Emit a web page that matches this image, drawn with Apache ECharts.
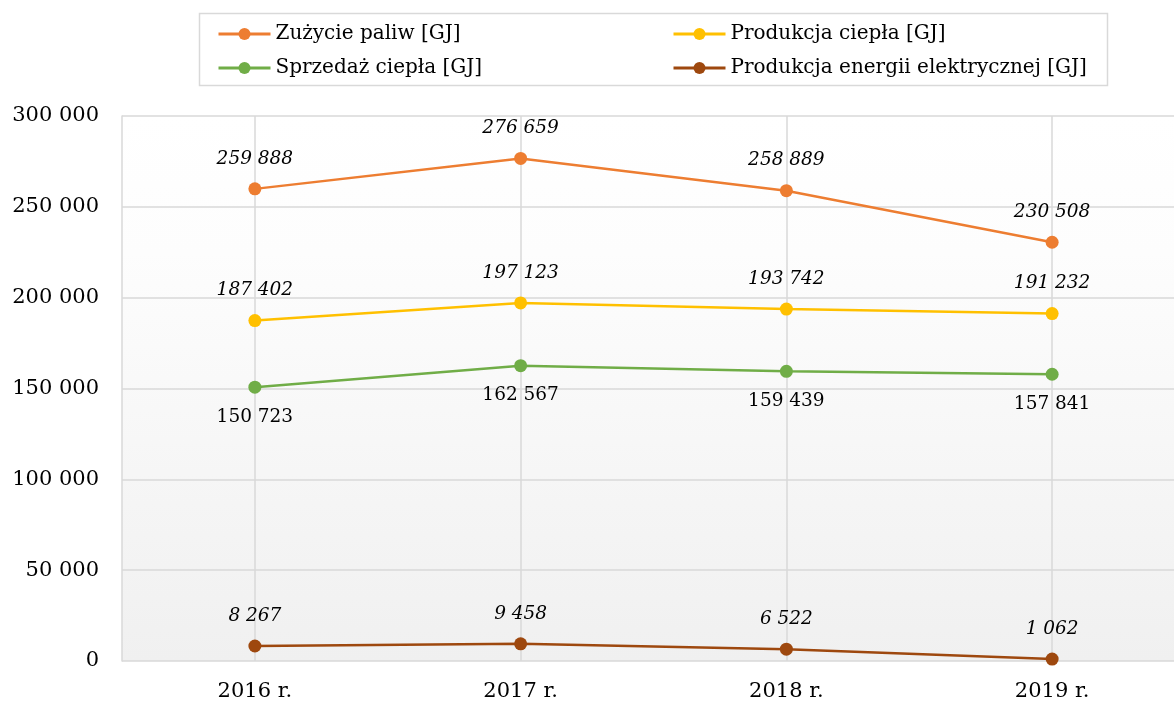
<!DOCTYPE html>
<html>
<head>
<meta charset="utf-8">
<script src="https://cdn.jsdelivr.net/npm/echarts@6/dist/echarts.min.js"></script>
<style>
  html, body { margin: 0; padding: 0; background: #fff; }
  #chart { width: 1174px; height: 702px; }
</style>
</head>
<body>
<div id="chart"></div>
<script>
var years = ['2016 r.', '2017 r.', '2018 r.', '2019 r.'];
var zuzyciePaliw = [259888, 276659, 258889, 230508];
var produkcjaCiepla = [187402, 197123, 193742, 191232];
var sprzedazCiepla = [150723, 162567, 159439, 157841];
var produkcjaEnergii = [8267, 9458, 6522, 1062];

var FONT = '"DejaVu Serif", serif';

function fmt(v){
  return String(v).replace(/\B(?=(\d{3})+(?!\d))/g, ' ');
}

function lineSeries(name, data, color, below){
  return {
    name: name,
    type: 'line',
    data: data,
    symbol: 'circle',
    symbolSize: 13,
    lineStyle: { color: color, width: 2.5 },
    itemStyle: { color: color },
    label: {
      show: true,
      position: below ? 'bottom' : 'top',
      distance: 14,
      fontFamily: FONT,
      fontSize: 18.5,
      fontStyle: below ? 'normal' : 'italic',
      color: '#000',
      formatter: function(p){ return fmt(p.value); }
    }
  };
}

var legendBase = {
  orient: 'vertical', top: 19, itemGap: 14,
  itemWidth: 52, itemHeight: 15,
  lineStyle: { width: 3 },
  textStyle: { fontFamily: FONT, fontSize: 20, color: '#000' }
};

var chart = echarts.init(document.getElementById('chart'));
chart.setOption({
  animation: false,
  backgroundColor: '#fff',
  textStyle: { fontFamily: FONT },
  legend: [
    Object.assign({}, legendBase, {
      left: 212,
      data: ['Zużycie paliw [GJ]', 'Sprzedaż ciepła [GJ]']
    }),
    Object.assign({}, legendBase, {
      left: 667,
      data: ['Produkcja ciepła [GJ]', 'Produkcja energii elektrycznej [GJ]']
    })
  ],
  graphic: [{
    type: 'rect', left: 197, top: 11,
    shape: { width: 908, height: 72 },
    style: { fill: 'none', stroke: '#d9d9d9', lineWidth: 1.5 },
    silent: true
  }],
  grid: {
    left: 122, right: -11, top: 116, bottom: 41,
    outerBoundsMode: 'none',
    show: true, borderWidth: 0,
    backgroundColor: new echarts.graphic.LinearGradient(0, 0, 0, 1, [
      { offset: 0, color: '#ffffff' },
      { offset: 0.25, color: '#fdfdfd' },
      { offset: 1, color: '#f0f0f0' }
    ])
  },
  xAxis: {
    type: 'category',
    data: years,
    boundaryGap: true,
    axisLine: { show: false },
    axisTick: { show: false },
    axisLabel: { fontFamily: FONT, fontSize: 21, color: '#000', margin: 20 },
    splitLine: { show: true, alignWithLabel: true, lineStyle: { color: '#d9d9d9', width: 1.5 } }
  },
  yAxis: {
    type: 'value',
    min: 0, max: 300000, interval: 50000,
    axisLine: { show: true, lineStyle: { color: '#d9d9d9', width: 1.5 } },
    axisTick: { show: false },
    axisLabel: {
      fontFamily: FONT, fontSize: 21, color: '#000', margin: 23,
      formatter: function(v){ return fmt(v); }
    },
    splitLine: { show: true, lineStyle: { color: '#d9d9d9', width: 1.5 } }
  },
  series: [
    lineSeries('Zużycie paliw [GJ]', zuzyciePaliw, '#ED7D31', false),
    lineSeries('Produkcja ciepła [GJ]', produkcjaCiepla, '#FFC000', false),
    lineSeries('Sprzedaż ciepła [GJ]', sprzedazCiepla, '#70AD47', true),
    lineSeries('Produkcja energii elektrycznej [GJ]', produkcjaEnergii, '#9E480E', false)
  ]
});
</script>
</body>
</html>
